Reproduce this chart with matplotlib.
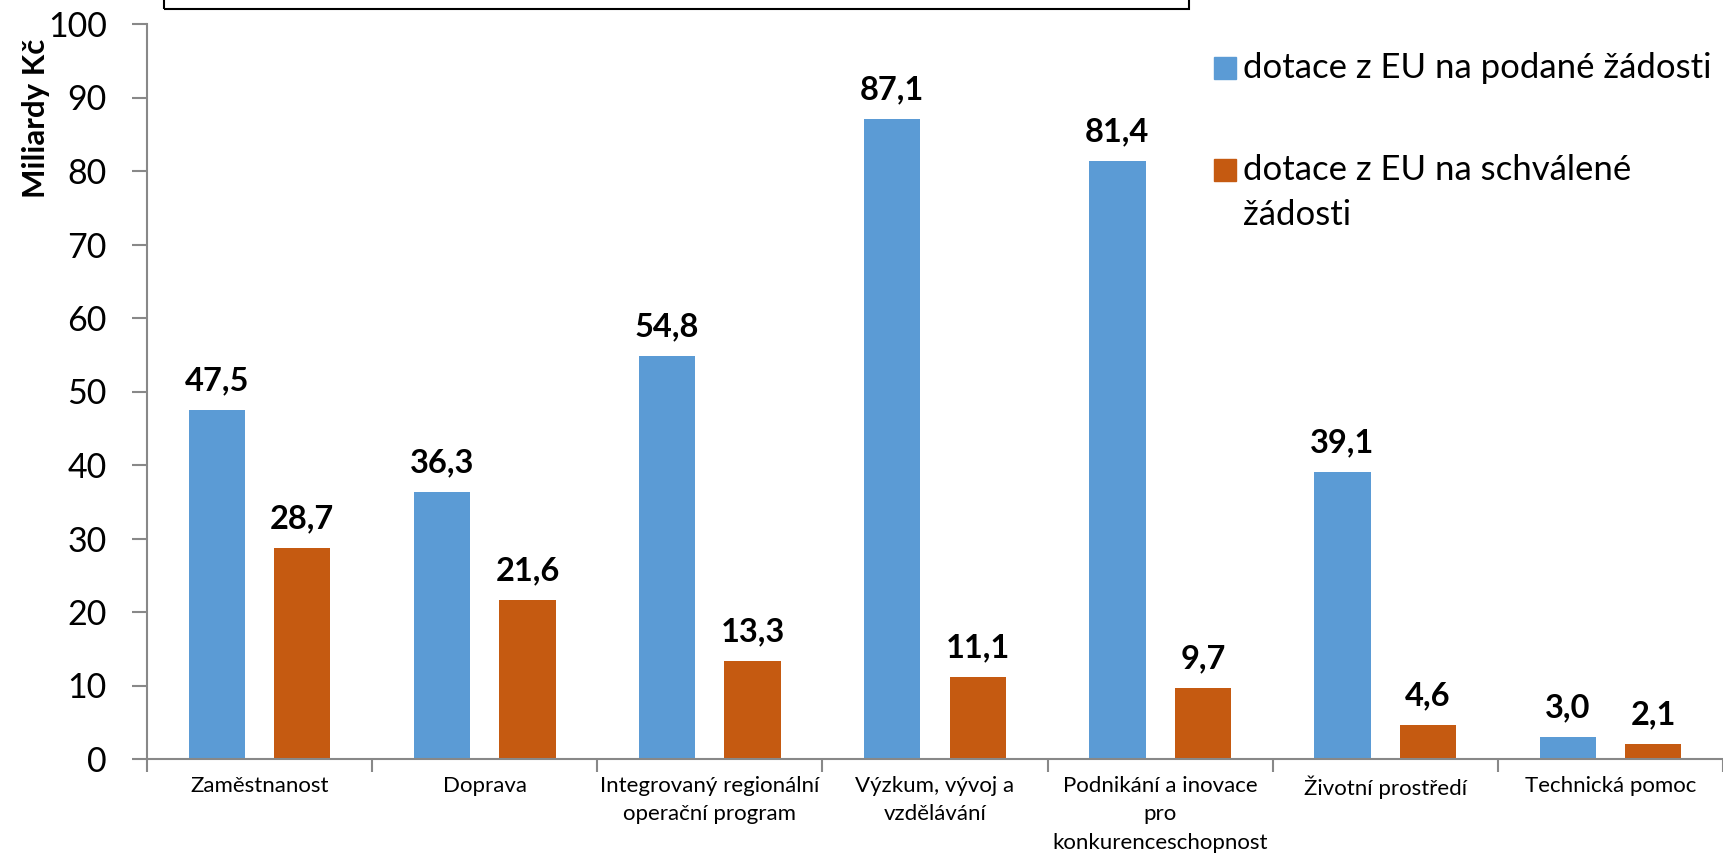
import matplotlib.pyplot as plt
from matplotlib.patches import Rectangle
import numpy as np

# Data
categories = ['Zaměstnanost', 'Doprava', 'Integrovaný regionální\noperační program',
              'Výzkum, vývoj a\nvzdělávání', 'Podnikání a inovace\npro\nkonkurenceschopnost',
              'Životní prostředí', 'Technická pomoc']
podane = [47.5, 36.3, 54.8, 87.1, 81.4, 39.1, 3.0]
schvalene = [28.7, 21.6, 13.3, 11.1, 9.7, 4.6, 2.1]
series_names = ['dotace z EU na podané žádosti', 'dotace z EU na schválené\nžádosti']
colors = ['#5B9BD5', '#C55A11']

plt.rcParams['font.family'] = ['Lato', 'DejaVu Sans']

fig = plt.figure(figsize=(17.23, 8.6), dpi=100)
ax = fig.add_axes([147 / 1723, 101 / 860, 1 - 147 / 1723, 735 / 860])

x = np.arange(len(categories))
w = 0.25
off = 0.19
b1 = ax.bar(x - off, podane, w, color=colors[0])
b2 = ax.bar(x + off, schvalene, w, color=colors[1])

# popisky hodnot
for bars, vals in ((b1, podane), (b2, schvalene)):
    for b, v in zip(bars, vals):
        ax.annotate(f'{v:.1f}'.replace('.', ','), (b.get_x() + b.get_width() / 2, v),
                    xytext=(0, 21), textcoords='offset points', ha='center', va='center',
                    fontsize=23.5, fontweight='bold')

ax.set_xlim(-0.5, len(categories) - 0.5)
ax.set_ylim(0, 100)
ax.set_yticks(range(0, 101, 10))
ax.tick_params(axis='y', labelsize=24.5, length=11, width=1.5, color='#888888', pad=18)

ax.set_xticks(x)
ax.set_xticklabels(categories, fontsize=16, linespacing=1.55)
ax.set_xticks(np.arange(-0.5, len(categories), 1), minor=True)
ax.tick_params(axis='x', which='major', length=0, pad=12)
ax.tick_params(axis='x', which='minor', length=9, width=1.5, color='#888888')

for s in ('top', 'right'):
    ax.spines[s].set_visible(False)
for s in ('left', 'bottom'):
    ax.spines[s].set_color('#888888')
    ax.spines[s].set_linewidth(1.5)

ax.set_ylabel('Miliardy Kč', fontsize=22.5, fontweight='bold')
ax.yaxis.label.set_va('center')
ax.yaxis.set_label_coords(-0.0704, 0.872)

# legenda
leg_y = [68, 170]
for name, c, yy in zip(series_names, colors, leg_y):
    fig.patches.append(Rectangle((1214 / 1723, 1 - (yy + 11) / 860), 22 / 1723, 22 / 860,
                                 transform=fig.transFigure, color=c))
    for i, line in enumerate(name.split('\n')):
        fig.text(1243 / 1723, 1 - (yy + 45 * i) / 860, line, fontsize=25,
                 va='center', ha='left')

# rámeček nadpisu (oříznutý nahoře)
fig.patches.append(Rectangle((164 / 1723, 1 - 9 / 860), (1189 - 164) / 1723, 0.1,
                             transform=fig.transFigure, fill=False, edgecolor='black', lw=1.5))

fig.savefig('out.png', dpi=100)
